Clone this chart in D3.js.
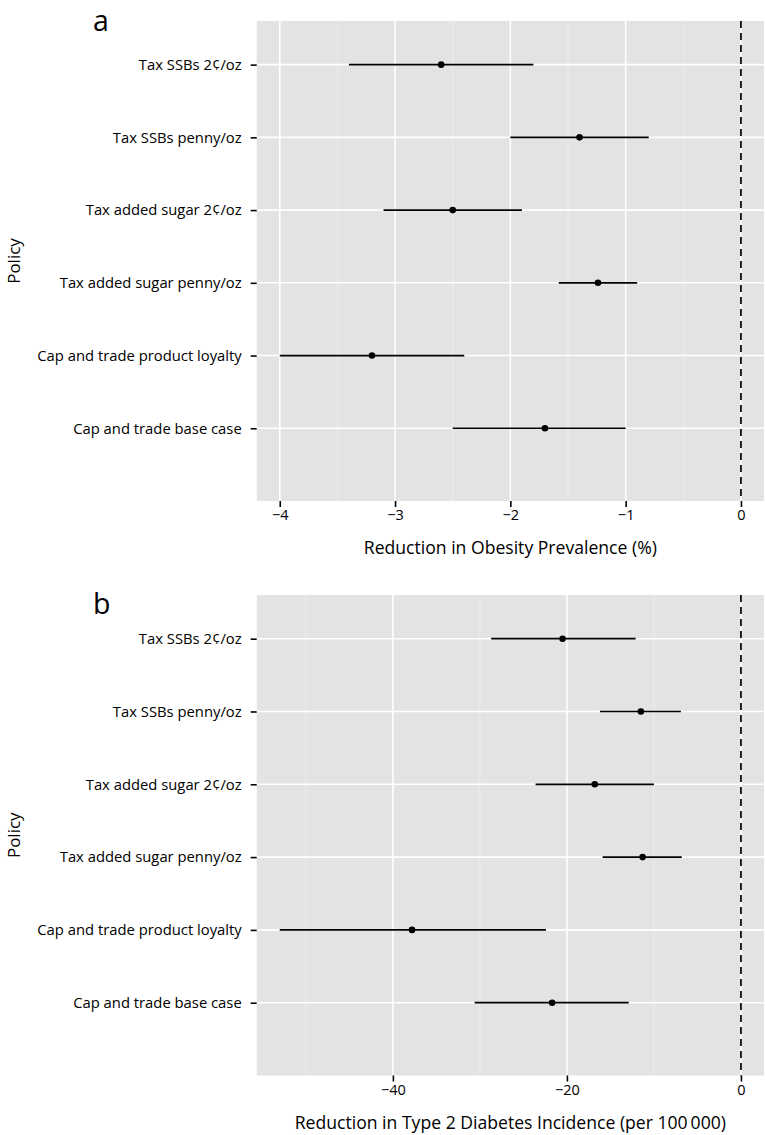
<!DOCTYPE html>
<html>
<head>
<meta charset="utf-8">
<script src="https://cdn.jsdelivr.net/npm/d3@7"></script>
<style>
  html, body { margin: 0; padding: 0; background: #fff; }
  svg { display: block; font-family: "Open Sans", "Noto Sans", sans-serif; }
</style>
</head>
<body>
<svg id="chart" width="765" height="1135"></svg>
<script>
// ---- data (top row first) ----
const policies = [
  "Tax SSBs 2¢/oz",
  "Tax SSBs penny/oz",
  "Tax added sugar 2¢/oz",
  "Tax added sugar penny/oz",
  "Cap and trade product loyalty",
  "Cap and trade base case"
];
// Panel a: reduction in obesity prevalence (%)
const obesityEst  = [-2.6, -1.4, -2.5, -1.24, -3.2, -1.7];
const obesityLow  = [-3.4, -2.0, -3.1, -1.58, -4.0, -2.5];
const obesityHigh = [-1.8, -0.8, -1.9, -0.90, -2.4, -1.0];
const obesityTicks = [-4, -3, -2, -1, 0];
const obesityMinor = [-3.5, -2.5, -1.5, -0.5];
// Panel b: reduction in type 2 diabetes incidence (per 100 000)
const diabetesEst  = [-20.5, -11.5, -16.8, -11.3, -37.8, -21.7];
const diabetesLow  = [-28.7, -16.2, -23.6, -15.9, -53.0, -30.6];
const diabetesHigh = [-12.1, -6.9, -10.0, -6.8, -22.4, -12.9];
const diabetesTicks = [-40, -20, 0];
const diabetesMinor = [-50, -30, -10];

const panels = [
  { tag: "a", top: 21, bottom: 501, est: obesityEst, low: obesityLow, high: obesityHigh,
    domain: [-4.2, 0.2], ticks: obesityTicks, minor: obesityMinor,
    title: "Reduction in Obesity Prevalence (%)" },
  { tag: "b", top: 595, bottom: 1075.5, est: diabetesEst, low: diabetesLow, high: diabetesHigh,
    domain: [-55.65, 2.65], ticks: diabetesTicks, minor: diabetesMinor,
    title: "Reduction in Type 2 Diabetes Incidence (per 100\u2009000)" }
];

const svg = d3.select("#chart");
const left = 256.7, right = 764;
const bg = "#e3e3e3";

panels.forEach(p => {
  const g = svg.append("g");
  const x = d3.scaleLinear().domain(p.domain).range([left, right]);
  // row index: top category = 6, bottom = 1, empty slot to 0
  const y = d3.scaleLinear().domain([0, 6.6]).range([p.bottom, p.top]);
  const rowOf = i => policies.length - i;

  g.append("rect").attr("x", left).attr("y", p.top)
    .attr("width", right - left).attr("height", p.bottom - p.top).attr("fill", bg);

  // minor vertical grid
  g.selectAll(".minor").data(p.minor).join("line")
    .attr("x1", d => x(d)).attr("x2", d => x(d))
    .attr("y1", p.top).attr("y2", p.bottom)
    .attr("stroke", "#f0f0f0").attr("stroke-width", 0.8);
  // major vertical grid
  g.selectAll(".major").data(p.ticks).join("line")
    .attr("x1", d => x(d)).attr("x2", d => x(d))
    .attr("y1", p.top).attr("y2", p.bottom)
    .attr("stroke", "#fff").attr("stroke-width", 1.6);
  // horizontal grid
  g.selectAll(".hgrid").data(policies).join("line")
    .attr("x1", left).attr("x2", right)
    .attr("y1", (d, i) => y(rowOf(i))).attr("y2", (d, i) => y(rowOf(i)))
    .attr("stroke", "#fff").attr("stroke-width", 1.6);

  // zero reference line
  g.append("line")
    .attr("x1", x(0)).attr("x2", x(0)).attr("y1", p.top).attr("y2", p.bottom)
    .attr("stroke", "#000").attr("stroke-width", 1.7).attr("stroke-dasharray", "7,5");

  // error bars
  g.selectAll(".err").data(policies).join("line")
    .attr("x1", (d, i) => x(p.low[i])).attr("x2", (d, i) => x(p.high[i]))
    .attr("y1", (d, i) => y(rowOf(i))).attr("y2", (d, i) => y(rowOf(i)))
    .attr("stroke", "#000").attr("stroke-width", 1.7);
  // points
  g.selectAll(".pt").data(policies).join("circle")
    .attr("cx", (d, i) => x(p.est[i])).attr("cy", (d, i) => y(rowOf(i)))
    .attr("r", 3.3).attr("fill", "#000");

  // x axis
  const xa = g.append("g").attr("transform", `translate(0,${p.bottom})`)
    .call(d3.axisBottom(x).tickValues(p.ticks).tickSize(6).tickPadding(3).tickFormat(d3.format("d")));
  xa.select(".domain").remove();
  xa.selectAll(".tick line").attr("stroke", "#000").attr("stroke-width", 1.6);
  xa.selectAll(".tick text").attr("font-size", 14.5).attr("fill", "#000")
    .attr("font-family", "'Open Sans', sans-serif");

  // y axis
  const ya = g.append("g").attr("transform", `translate(${left},0)`)
    .call(d3.axisLeft(y).tickValues(policies.map((d, i) => rowOf(i)))
      .tickFormat(v => policies[policies.length - v]).tickSize(6).tickPadding(9));
  ya.select(".domain").remove();
  ya.selectAll(".tick line").attr("stroke", "#000").attr("stroke-width", 1.6);
  ya.selectAll(".tick text").attr("font-size", 14.8).attr("fill", "#000")
    .attr("font-family", "'Open Sans', sans-serif");

  // axis titles
  g.append("text").attr("x", (left + right) / 2).attr("y", p.bottom + 53)
    .attr("text-anchor", "middle").attr("font-size", 17.6).attr("fill", "#000")
    .text(p.title);
  g.append("text")
    .attr("transform", `translate(20,${(p.top + p.bottom) / 2}) rotate(-90)`)
    .attr("text-anchor", "middle").attr("font-size", 17).attr("fill", "#000")
    .text("Policy");
  // panel tag
  g.append("text").attr("x", 93).attr("y", p.tag === "a" ? 31 : 614)
    .attr("font-size", 28.5).attr("fill", "#000").text(p.tag);
});
</script>
</body>
</html>
